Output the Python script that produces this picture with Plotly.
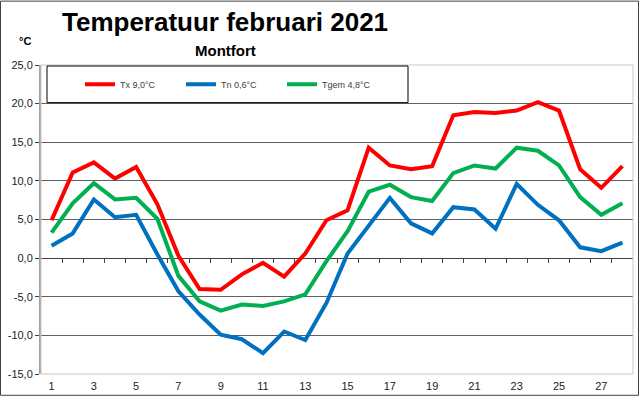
import plotly.graph_objects as go

days = list(range(1, 29))
tx = [4.9, 11.1, 12.4, 10.3, 11.8, 7.0, 0.3, -4.0, -4.1, -2.1, -0.6, -2.4, 0.6, 4.9,
      6.2, 14.3, 12.0, 11.5, 11.9, 18.5, 18.9, 18.8, 19.1, 20.2, 19.1, 11.5, 9.1, 11.9]
tn = [1.6, 3.2, 7.6, 5.3, 5.6, 0.5, -4.3, -7.3, -9.9, -10.5, -12.3, -9.5, -10.6, -5.8,
      0.6, 4.2, 7.8, 4.5, 3.2, 6.6, 6.3, 3.8, 9.6, 6.9, 4.9, 1.4, 0.9, 2.0]
tgem = [3.3, 7.1, 9.7, 7.6, 7.8, 5.1, -2.3, -5.6, -6.8, -6.0, -6.2, -5.6, -4.7, -0.4,
        3.5, 8.6, 9.5, 7.9, 7.4, 11.0, 12.0, 11.6, 14.3, 13.9, 12.0, 7.9, 5.6, 7.1]

series_names = ["Tx 9,0°C", "Tn 0,6°C", "Tgem 4,8°C"]
series_colors = ["#FF0000", "#0070C0", "#00B050"]

y_tickvals = [25, 20, 15, 10, 5, 0, -5, -10, -15]
y_ticktext = ["25,0", "20,0", "15,0", "10,0", "5,0", "0,0", "-5,0", "-10,0", "-15,0"]
x_tickvals = list(range(1, 29, 2))
x_ticktext = [str(d) for d in x_tickvals]
x_boundaries = [d + 0.5 for d in range(1, 28)]

W, H = 640, 399
ML, MR, MT, MB = 41, 7, 65, 22
PW, PH = W - ML - MR, H - MT - MB


def px(x):
    return (x - ML) / PW


def py(y):
    return (H - MB - y) / PH


fig = go.Figure()
for name, vals, col in zip(series_names, [tx, tn, tgem], series_colors):
    fig.add_trace(go.Scatter(x=days, y=vals, name=name, mode="lines",
                             line=dict(color=col, width=4)))
# helper trace carrying the category-axis ticks at y = 0
fig.add_trace(go.Scatter(x=days, y=tx, xaxis="x2", mode="lines", line=dict(width=0),
                         opacity=0, showlegend=False, hoverinfo="skip"))

font_main = "Liberation Sans, Arial, sans-serif"

fig.update_layout(
    width=W, height=H,
    margin=dict(l=ML, r=MR, t=MT, b=MB, pad=0),
    paper_bgcolor="white", plot_bgcolor="white",
    font=dict(family="Liberation Sans, Arial, sans-serif", size=11, color="#222222"),
    xaxis=dict(range=[0.5, 28.5], tickvals=x_tickvals, ticktext=x_ticktext,
               showgrid=False, zeroline=False, showline=False, ticks="",
               ticklabelstandoff=4,
               tickfont=dict(size=11, color="#222222")),
    xaxis2=dict(range=[0.5, 28.5], overlaying="x", anchor="free", position=15 / 40,
                tickvals=x_boundaries, ticks="outside", ticklen=4, tickcolor="#404040",
                showticklabels=False, showgrid=False, zeroline=False, showline=False),
    yaxis=dict(range=[-15, 25], tickvals=y_tickvals, ticktext=y_ticktext,
               showgrid=True, gridcolor="#606060", gridwidth=1,
               zeroline=True, zerolinecolor="#404040", zerolinewidth=1,
               showline=True, linecolor="#A0A0A0", linewidth=2,
               ticks="outside", ticklen=4, tickcolor="#404040",
               tickfont=dict(size=11, color="#222222")),
    legend=dict(orientation="h", x=px(80), y=py(84.5), xanchor="left", yanchor="middle",
                bgcolor="rgba(0,0,0,0)", borderwidth=0,
                entrywidth=56, entrywidthmode="pixels",
                font=dict(size=9, color="#404040"), itemwidth=30),
    showlegend=True,
    shapes=[
        dict(type="rect", xref="paper", yref="paper", x0=0, x1=1, y0=0, y1=1,
             line=dict(color="#C8C8C8", width=1), layer="above"),
        dict(type="rect", xref="paper", yref="paper", x0=px(47), x1=px(408),
             y0=py(103), y1=py(66), line=dict(color="#000000", width=1),
             fillcolor="white", layer="above"),
        dict(type="rect", xref="paper", yref="paper", x0=px(0.5), x1=px(638.5),
             y0=py(398.5), y1=py(0.5), line=dict(color="#404040", width=1), layer="above"),
    ],
    annotations=[
        dict(text="<b>Temperatuur februari 2021</b>", xref="paper", yref="paper",
             x=px(225), y=py(22), xanchor="center", yanchor="middle", showarrow=False,
             font=dict(family=font_main, size=26, color="#000000")),
        dict(text="<b>Montfort</b>", xref="paper", yref="paper",
             x=px(225), y=py(50), xanchor="center", yanchor="middle", showarrow=False,
             font=dict(family=font_main, size=15, color="#000000")),
        dict(text="<b>°C</b>", xref="paper", yref="paper",
             x=px(25), y=py(41), xanchor="center", yanchor="middle", showarrow=False,
             font=dict(family="Liberation Sans, Arial, sans-serif", size=11, color="#000000")),
    ],
)

fig.write_html("out.html", config={"displayModeBar": False},
               post_script="document.body.style.margin='0';")
